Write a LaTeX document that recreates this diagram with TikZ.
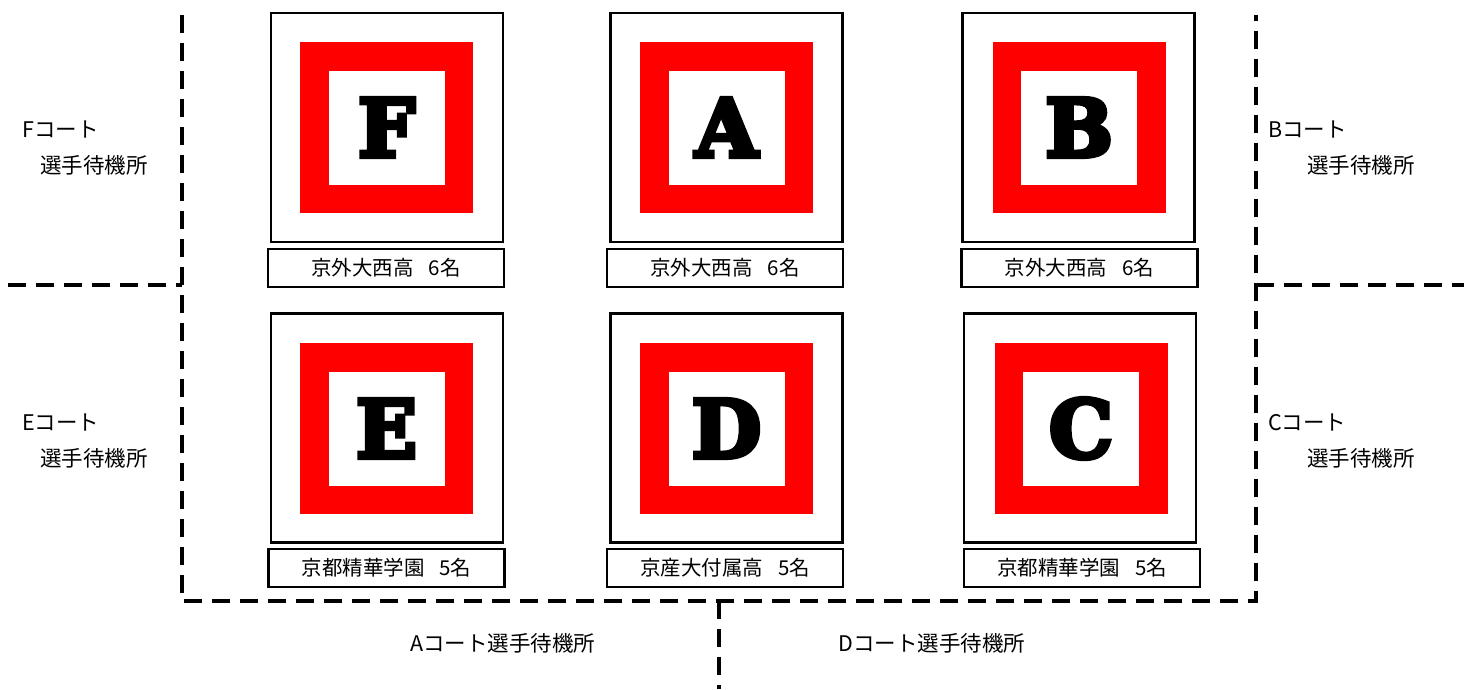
\documentclass[tikz,border=0pt]{standalone}
\usepackage{fontspec}
\newfontfamily\jp{Noto Sans CJK JP}
\newfontfamily\slab{DejaVu Serif}[BoldFeatures={FakeBold=6}]
\begin{document}
\begin{tikzpicture}[x=1pt,y=-1pt,
  court/.style={draw=black,line width=2.6pt,minimum width=232pt,minimum height=229pt,inner sep=0pt},
  ring/.style={draw=red,line width=28.5pt,minimum width=144.5pt,minimum height=142.5pt,inner sep=0pt,
    font=\slab\bfseries\fontsize{80}{80}\selectfont},
  team/.style={draw=black,line width=2.6pt,minimum width=236pt,minimum height=38pt,inner sep=0pt,
    font=\jp\fontsize{20.5}{21}\selectfont},
  wait/.style={anchor=west,inner sep=0pt,font=\jp\fontsize{21.5}{22}\selectfont},
  zone/.style={line width=3.5pt,dash pattern=on 18pt off 10pt}]
\useasboundingbox (0,0) rectangle (1464,689);
% courts
\node[court] (oF) at (387,127.5) {};
\node[ring]  (F)  at (386.5,127.5) {F};
\node[team]  (tF) at (386,268) {京外大西高\hspace{15pt}6名};
\node[court] (oA) at (726.5,127.5) {};
\node[ring]  (A)  at (726.5,127.5) {A};
\node[team]  (tA) at (725,268) {京外大西高\hspace{15pt}6名};
\node[court] (oB) at (1078.5,127.5) {};
\node[ring]  (B)  at (1079,127.5) {B};
\node[team]  (tB) at (1079.5,268) {京外大西高\hspace{15pt}6名};
\node[court] (oE) at (387,428) {};
\node[ring]  (E)  at (386.5,428.5) {E};
\node[team]  (tE) at (386.5,568) {京都精華学園\hspace{15pt}5名};
\node[court] (oD) at (726.5,428) {};
\node[ring]  (D)  at (726.5,428.5) {D};
\node[team]  (tD) at (725,568) {京産大付属高\hspace{15pt}5名};
\node[court] (oC) at (1080,428) {};
\node[ring]  (C)  at (1081,428.5) {C};
\node[team]  (tC) at (1082,568) {京都精華学園\hspace{15pt}5名};
% zone lines
\coordinate (lt) at (182,15);
\coordinate (lb) at (182,601);
\coordinate (rt) at (1256,15);
\coordinate (rb) at (1256,601);
\coordinate (lm) at (182,285);
\coordinate (le) at (8,285);
\coordinate (rm) at (1256,285);
\coordinate (re) at (1464,285);
\coordinate (bm) at (719,601);
\coordinate (be) at (719,689);
\draw[zone] (lt) -- (lb) -- (rb) -- (rt);
\draw[zone] (le) -- (lm);
\draw[zone] (rm) -- (re);
\draw[zone] (bm) -- (be);
% waiting areas
\node[wait] (wF1) at (22,129) {Fコート};
\node[wait] (wF2) at (40,165) {選手待機所};
\node[wait] (wE1) at (22,422) {Eコート};
\node[wait] (wE2) at (40,458) {選手待機所};
\node[wait] (wB1) at (1268,129) {Bコート};
\node[wait] (wB2) at (1307,165) {選手待機所};
\node[wait] (wC1) at (1268,422) {Cコート};
\node[wait] (wC2) at (1307,458) {選手待機所};
\node[wait] (wA) at (410,643) {Aコート選手待機所};
\node[wait] (wD) at (838,643) {Dコート選手待機所};
\end{tikzpicture}
\end{document}
